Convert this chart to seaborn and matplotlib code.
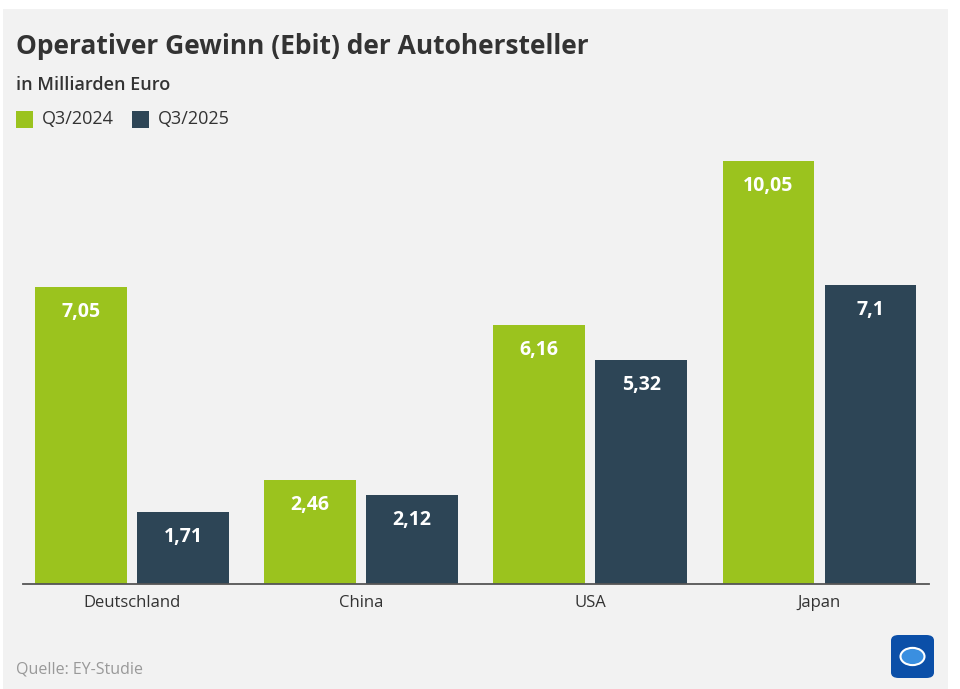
import numpy as np
import pandas as pd
import matplotlib.pyplot as plt
import seaborn as sns
from matplotlib.patches import FancyBboxPatch, Circle

# Data
REGIONS = ["Deutschland", "China", "USA", "Japan"]
PERIODS = ["Q3/2024", "Q3/2025"]
EBIT_2024 = [7.05, 2.46, 6.16, 10.05]
EBIT_2025 = [1.71, 2.12, 5.32, 7.1]

GREEN = "#9bc31e"
NAVY = "#2d4556"
BG = "#f2f2f2"

df = pd.DataFrame({
    "region": REGIONS * 2,
    "period": [PERIODS[0]] * 4 + [PERIODS[1]] * 4,
    "ebit": EBIT_2024 + EBIT_2025,
})

sns.set_theme(style="white")
plt.rcParams["font.family"] = ["Open Sans", "DejaVu Sans"]

fig = plt.figure(figsize=(9.6, 6.89), dpi=100)
fig.patch.set_facecolor("white")

# grey panel behind everything
panel = plt.Rectangle((3 / 960, 0), 945 / 960, 680 / 689, transform=fig.transFigure,
                      facecolor=BG, edgecolor="none", zorder=-10)
fig.patches.append(panel)

ax = fig.add_axes([23 / 960, 105 / 689, 906 / 960, 434 / 689])
ax.set_facecolor(BG)

sns.barplot(data=df, x="region", y="ebit", hue="period", order=REGIONS,
            hue_order=PERIODS, palette=[GREEN, NAVY], width=0.89, gap=0.1,
            saturation=1, linewidth=0, ax=ax, legend=False)

# value labels in the bars
for container in ax.containers:
    labels = [f"{v:g}".replace(".", ",") for v in container.datavalues]
    for bar, lab in zip(container, labels):
        ax.annotate(lab, (bar.get_x() + bar.get_width() / 2, bar.get_height()),
                    xytext=(0, -18), textcoords="offset points", ha="center", va="center",
                    color="white", fontsize=14, fontweight="bold")

ax.set_xlim(-0.476, 3.478)
ax.set_ylim(0, 10.31)
ax.set_xlabel("")
ax.set_ylabel("")
ax.set_yticks([])
for side in ["top", "right", "left"]:
    ax.spines[side].set_visible(False)
ax.spines["bottom"].set_color("#555555")
ax.spines["bottom"].set_linewidth(1.3)
ax.tick_params(axis="x", length=0, pad=8, labelsize=12, labelcolor="#333333")
for t in ax.get_xticklabels():
    t.set_fontweight("medium")

# titles
fig.text(16 / 960, 1 - 47 / 689, "Operativer Gewinn (Ebit) der Autohersteller",
         fontsize=19, fontweight="bold", color="#333333", va="center", ha="left")
fig.text(16 / 960, 1 - 85 / 689, "in Milliarden Euro", fontsize=13,
         fontweight="semibold", color="#333333", va="center", ha="left")

# legend
for x0, color, lab in [(16, GREEN, PERIODS[0]), (132, NAVY, PERIODS[1])]:
    fig.patches.append(plt.Rectangle((x0 / 960, 1 - 128 / 689), 17 / 960, 17 / 689,
                                     transform=fig.transFigure, facecolor=color,
                                     edgecolor="none"))
    fig.text((x0 + 26) / 960, 1 - 119 / 689, lab, fontsize=13, color="#333333",
             va="center", ha="left")

fig.text(16 / 960, 1 - 669 / 689, "Quelle: EY-Studie", fontsize=11.5, color="#999999",
         va="center", ha="left")

# small logo box
logo = FancyBboxPatch((891 / 960, 1 - 678 / 689), 43 / 960, 43 / 689,
                      boxstyle="round,pad=0,rounding_size=0.008", transform=fig.transFigure,
                      facecolor="#0b4fa8", edgecolor="none")
fig.patches.append(logo)
fig.patches.append(Circle((912.5 / 960, 1 - 656.5 / 689), 0.0125, transform=fig.transFigure,
                          facecolor="#3a8fe0", edgecolor="white", linewidth=1.5))

fig.savefig("out.png", dpi=100, facecolor=fig.get_facecolor())
